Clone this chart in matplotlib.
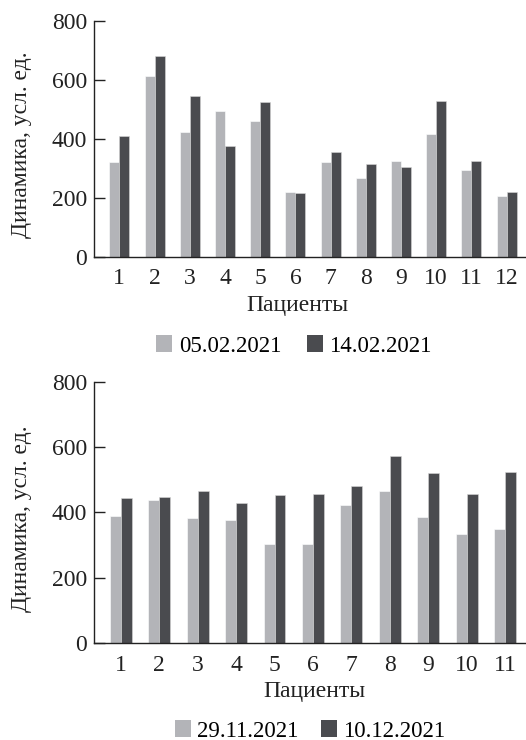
import matplotlib
matplotlib.use("Agg")
import matplotlib.pyplot as plt
import numpy as np
from matplotlib.patches import Patch

plt.rcParams['font.family'] = ['Liberation Serif', 'DejaVu Serif']

# Panel 1
patients_1 = [str(i) for i in range(1, 13)]
dates_1 = ["05.02.2021", "14.02.2021"]
first_1 = [322, 614, 425, 496, 461, 222, 322, 269, 326, 417, 296, 208]
second_1 = [411, 683, 548, 378, 525, 218, 356, 315, 306, 530, 325, 220]

# Panel 2
patients_2 = [str(i) for i in range(1, 12)]
dates_2 = ["29.11.2021", "10.12.2021"]
first_2 = [388, 439, 382, 377, 302, 304, 422, 466, 387, 333, 349]
second_2 = [444, 446, 466, 428, 453, 455, 482, 574, 520, 456, 523]

yticks = [0, 200, 400, 600, 800]
ylabel = "Динамика, усл. ед."
xlabel = "Пациенты"

LIGHT = "#b3b4b8"
DARK = "#4a4b4f"
TXT = "#222222"
FS = 17
LFS = 16.5

fig = plt.figure(figsize=(5.26, 7.4), dpi=100)
W, H = 526, 740


def make_axes(left, top, right, bottom):
    return fig.add_axes([left / W, 1 - bottom / H, (right - left) / W, (bottom - top) / H])


def draw(ax, cats, a, b, xlim, dates, leg, xlab, xpad, lab_y, colsp, htp):
    x = np.arange(1, len(cats) + 1)
    w = 0.285
    ax.bar(x - w / 2, a, w, color=LIGHT, edgecolor="white", linewidth=0.4)
    ax.bar(x + w / 2, b, w, color=DARK, edgecolor="#d8d8d8", linewidth=0.4)
    ax.set_xlim(*xlim)
    ax.set_ylim(0, 800)
    ax.set_yticks(yticks)
    ax.set_xticks(x)
    ax.set_xticklabels(cats)
    for s in ("top", "right"):
        ax.spines[s].set_visible(False)
    for s in ("left", "bottom"):
        ax.spines[s].set_linewidth(1.0)
        ax.spines[s].set_color(TXT)
    ax.tick_params(axis="y", direction="in", length=8, width=1.0, labelsize=FS, pad=5,
                   colors=TXT)
    ax.tick_params(axis="x", length=0, labelsize=FS, pad=xpad, colors=TXT)
    ax.set_ylabel(ylabel, fontsize=FS, color=TXT, va="center")
    ax.yaxis.set_label_coords(-0.1667, lab_y)
    fig.text(xlab[0] / W, 1 - xlab[1] / H, xlabel, fontsize=FS, ha="center", va="center",
             color=TXT)
    handles = [Patch(facecolor=LIGHT, edgecolor="none"), Patch(facecolor=DARK, edgecolor="none")]
    fig.legend(handles, dates, loc="center", bbox_to_anchor=(leg[0] / W, 1 - leg[1] / H),
               ncol=2, frameon=False, fontsize=LFS, handlelength=0.7, handleheight=0.7,
               handletextpad=htp, columnspacing=colsp, borderpad=0, borderaxespad=0)


ax1 = make_axes(94, 21.3, 526, 257.3)
draw(ax1, patients_1, first_1, second_1, (0.28, 12.55), dates_1,
     leg=(294, 346), xlab=(297, 306), xpad=8, lab_y=0.476, colsp=1.1, htp=0.3)

ax2 = make_axes(94, 382, 526, 642.7)
draw(ax2, patients_2, first_2, second_2, (0.305, 11.54), dates_2,
     leg=(310, 731), xlab=(314, 691), xpad=9, lab_y=0.474, colsp=1.0, htp=0.25)

fig.savefig("out.png", dpi=100)
